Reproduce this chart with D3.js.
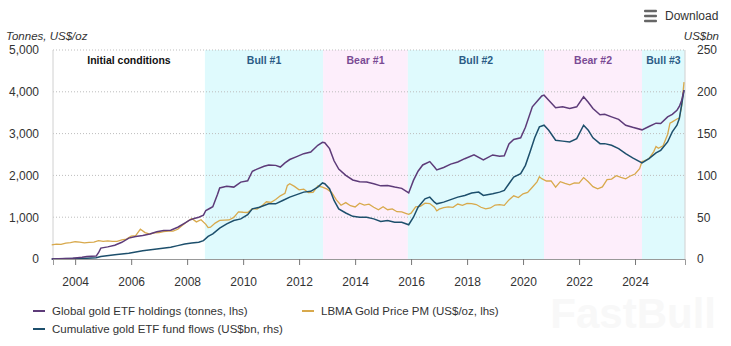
<html>
<head>
<script src="https://d3js.org/d3.v7.min.js"></script>
<style>
  body { margin: 0; background: #fff; font-family: "Liberation Sans", Arial, sans-serif; }
  svg text { font-family: "Liberation Sans", Arial, sans-serif; }
</style>
</head>
<body>
<div id="chart"></div>
<script>
// tick labels
var leftTicks = [0, 1000, 2000, 3000, 4000, 5000];
var rightTicks = [0, 50, 100, 150, 200, 250];
var yearTicks = [2004, 2006, 2008, 2010, 2012, 2014, 2016, 2018, 2020, 2022, 2024];

// market phases
var phaseNames = ["Initial conditions", "Bull #1", "Bear #1", "Bull #2", "Bear #2", "Bull #3"];
var phaseStarts = ["2003-03-18", "2008-08-20", "2012-11-10", "2015-11-20", "2020-10-01", "2024-04-01"];
var phaseEnds = ["2008-08-20", "2012-11-10", "2015-11-20", "2020-10-01", "2024-04-01", "2025-10-14"];
var phaseKinds = ["init", "bull", "bear", "bull", "bear", "bull"];

// Global gold ETF holdings (tonnes)
var holdings = [
  ["2003-03",0],["2003-06",5],["2003-12",20],["2004-04",40],["2004-06",60],["2004-10",70],["2004-11",150],["2004-12",260],
  ["2005-03",290],["2005-06",330],["2005-09",400],["2005-12",500],["2006-03",540],["2006-06",560],["2006-09",600],["2006-12",650],
  ["2007-03",680],["2007-06",690],["2007-09",760],["2007-12",860],["2008-02",930],["2008-04",970],["2008-06",1000],["2008-08",1050],
  ["2008-09",1160],["2008-11",1220],["2008-12",1250],["2009-02",1550],["2009-03",1700],["2009-06",1740],["2009-09",1720],["2009-12",1840],
  ["2010-03",1870],["2010-05",2100],["2010-07",2150],["2010-10",2220],["2010-12",2250],["2011-03",2240],["2011-05",2200],["2011-07",2300],
  ["2011-09",2380],["2011-12",2450],["2012-03",2520],["2012-06",2560],["2012-09",2720],["2012-11",2790],["2012-12",2780],["2013-02",2640],
  ["2013-04",2350],["2013-06",2150],["2013-09",2000],["2013-12",1890],["2014-03",1850],["2014-06",1840],["2014-09",1800],["2014-12",1750],
  ["2015-03",1760],["2015-06",1720],["2015-09",1690],["2015-12",1580],["2016-02",1880],["2016-04",2100],["2016-06",2250],["2016-09",2330],
  ["2016-11",2200],["2016-12",2130],["2017-03",2190],["2017-06",2270],["2017-09",2320],["2017-12",2400],["2018-04",2490],["2018-08",2370],
  ["2018-12",2490],["2019-03",2460],["2019-05",2470],["2019-07",2750],["2019-09",2860],["2019-12",2900],["2020-02",3150],["2020-05",3640],
  ["2020-09",3900],["2020-10",3920],["2020-12",3800],["2021-03",3620],["2021-06",3640],["2021-09",3600],["2021-12",3640],["2022-03",3880],
  ["2022-05",3750],["2022-07",3600],["2022-10",3450],["2022-12",3460],["2023-03",3400],["2023-06",3340],["2023-09",3200],["2023-12",3150],
  ["2024-04",3090],["2024-07",3170],["2024-10",3250],["2024-12",3240],["2025-03",3400],["2025-05",3460],["2025-07",3560],["2025-08",3650],
  ["2025-09",3800],["2025-10",4040]
];

// Cumulative gold ETF fund flows (US$bn)
var flows = [
  ["2003-03",0],["2003-12",0.5],["2004-06",1],["2004-10",1.5],["2004-12",3],["2005-06",5],["2005-12",7],["2006-06",10],
  ["2006-12",12],["2007-06",14],["2007-09",16],["2007-12",18],["2008-03",19],["2008-06",20],["2008-08",22],["2008-10",27],
  ["2008-12",30],["2009-03",37],["2009-06",42],["2009-09",46],["2009-12",48],["2010-03",53],["2010-05",60],["2010-08",62],
  ["2010-12",66],["2011-03",66],["2011-06",70],["2011-09",74],["2011-12",77],["2012-03",80],["2012-06",81],["2012-09",86],
  ["2012-11",91],["2012-12",90],["2013-02",84],["2013-04",70],["2013-06",60],["2013-09",55],["2013-12",51],["2014-03",50],
  ["2014-06",50],["2014-09",48],["2014-12",45],["2015-03",46],["2015-06",44],["2015-09",44],["2015-12",41],["2016-02",50],
  ["2016-04",62],["2016-07",72],["2016-09",74],["2016-11",68],["2016-12",66],["2017-03",68],["2017-06",71],["2017-09",74],
  ["2017-12",76],["2018-03",79],["2018-06",80],["2018-08",76],["2018-12",78],["2019-03",80],["2019-05",82],["2019-07",90],
  ["2019-09",98],["2019-12",102],["2020-02",112],["2020-04",128],["2020-06",145],["2020-08",158],["2020-10",160],["2020-12",154],
  ["2021-03",142],["2021-06",141],["2021-09",140],["2021-12",144],["2022-03",160],["2022-05",154],["2022-07",145],["2022-10",138],
  ["2022-12",138],["2023-03",136],["2023-06",132],["2023-09",126],["2023-12",121],["2024-04",115],["2024-07",120],["2024-10",127],
  ["2024-12",130],["2025-03",140],["2025-05",152],["2025-07",160],["2025-08",168],["2025-09",185],["2025-10",202]
];

// LBMA Gold Price PM (US$/oz)
var gold = [
  ["2003-03",340],["2003-05",355],["2003-07",350],["2003-09",378],["2003-11",390],
  ["2004-01",413],["2004-03",406],["2004-05",384],["2004-07",398],["2004-09",405],["2004-11",439],
  ["2005-01",424],["2005-03",434],["2005-05",422],["2005-07",424],["2005-09",456],["2005-11",476],
  ["2006-01",549],["2006-03",557],["2006-05",712],["2006-07",633],["2006-09",598],["2006-11",628],
  ["2007-01",631],["2007-03",655],["2007-05",668],["2007-07",665],["2007-09",712],["2007-11",806],
  ["2008-01",889],["2008-03",968],["2008-05",888],["2008-07",939],["2008-09",829],["2008-10",750],["2008-11",760],
  ["2009-01",858],["2009-03",924],["2009-05",928],["2009-07",934],["2009-09",996],["2009-11",1128],
  ["2010-01",1118],["2010-03",1113],["2010-05",1205],["2010-07",1193],["2010-09",1271],["2010-11",1370],
  ["2011-01",1356],["2011-03",1424],["2011-05",1511],["2011-07",1572],["2011-08",1760],["2011-09",1800],["2011-11",1738],
  ["2012-01",1656],["2012-03",1673],["2012-05",1591],["2012-07",1593],["2012-09",1745],["2012-11",1721],
  ["2013-01",1671],["2013-03",1593],["2013-05",1414],["2013-07",1286],["2013-09",1349],["2013-11",1275],
  ["2014-01",1244],["2014-03",1336],["2014-05",1288],["2014-07",1311],["2014-09",1239],["2014-11",1176],
  ["2015-01",1251],["2015-03",1178],["2015-05",1199],["2015-07",1131],["2015-09",1125],["2015-11",1086],["2015-12",1068],
  ["2016-01",1097],["2016-03",1246],["2016-05",1260],["2016-07",1337],["2016-09",1326],["2016-11",1238],["2016-12",1150],
  ["2017-01",1192],["2017-03",1231],["2017-05",1246],["2017-07",1236],["2017-09",1315],["2017-11",1282],
  ["2018-01",1331],["2018-03",1325],["2018-05",1303],["2018-07",1238],["2018-09",1198],["2018-11",1220],
  ["2019-01",1291],["2019-03",1300],["2019-05",1284],["2019-07",1413],["2019-09",1511],["2019-11",1470],
  ["2020-01",1560],["2020-03",1591],["2020-05",1716],["2020-07",1846],["2020-08",1968],["2020-09",1921],["2020-11",1866],
  ["2021-01",1867],["2021-03",1718],["2021-05",1850],["2021-07",1807],["2021-09",1775],["2021-11",1822],
  ["2022-01",1817],["2022-03",1948],["2022-05",1848],["2022-07",1732],["2022-09",1681],["2022-11",1726],
  ["2023-01",1898],["2023-03",1913],["2023-05",1992],["2023-07",1951],["2023-09",1916],["2023-11",1985],
  ["2024-01",2034],["2024-03",2160],["2024-04",2330],["2024-05",2350],["2024-07",2400],["2024-09",2570],["2024-10",2690],["2024-11",2650],
  ["2025-01",2710],["2025-03",2980],["2025-04",3250],["2025-05",3280],["2025-07",3350],["2025-08",3370],["2025-09",3660],["2025-10",4230]
];

var W = 731, H = 346;
var margin = {top: 50, right: 46, bottom: 87, left: 53};
var width = W - margin.left - margin.right,
    height = H - margin.top - margin.bottom;

var parseM = d3.timeParse("%Y-%m"),
    parseD = d3.timeParse("%Y-%m-%d");

var colPurple = "#5d3b79", colTeal = "#1d4f6c", colGold = "#d8a94c";
var phaseFill = {init: "#ffffff", bull: "#dffafd", bear: "#fdeefb"};
var phaseText = {init: "#111111", bull: "#2b5c86", bear: "#7a4a94"};

var svg = d3.select("#chart").append("svg")
  .attr("width", W).attr("height", H);

// watermark
svg.append("text")
  .attr("x", 716).attr("y", 328)
  .attr("text-anchor", "end")
  .style("font-size", "42px").style("font-weight", "bold")
  .attr("fill", "#f8f8f8")
  .text("FastBull");

var g = svg.append("g")
  .attr("transform", "translate(" + margin.left + "," + margin.top + ")");

var x = d3.scaleTime()
  .domain([parseD("2003-03-18"), parseD("2025-10-14")])
  .range([0, width]);
var yL = d3.scaleLinear().domain([0, 5000]).range([height, 0]);
var yR = d3.scaleLinear().domain([0, 250]).range([height, 0]);

// phase bands
var phases = phaseNames.map(function(n, i) {
  return {name: n, s: parseD(phaseStarts[i]), e: parseD(phaseEnds[i]), kind: phaseKinds[i]};
});
g.selectAll(".band").data(phases).enter().append("rect")
  .attr("x", function(d) { return x(d.s); })
  .attr("width", function(d) { return x(d.e) - x(d.s); })
  .attr("y", 0).attr("height", height)
  .attr("fill", function(d) { return phaseFill[d.kind]; });

// grid
g.selectAll(".grid").data(leftTicks.slice(1)).enter().append("line")
  .attr("x1", 0).attr("x2", width)
  .attr("y1", function(d) { return yL(d); }).attr("y2", function(d) { return yL(d); })
  .attr("stroke", "#bdbdbd").attr("stroke-width", 1).attr("stroke-dasharray", "1,2");

// frame sides
g.append("line").attr("x1", 0).attr("x2", 0).attr("y1", 0).attr("y2", height)
  .attr("stroke", "#d0d0d0");
g.append("line").attr("x1", width).attr("x2", width).attr("y1", 0).attr("y2", height)
  .attr("stroke", "#d0d0d0");

// phase labels
g.selectAll(".plabel").data(phases).enter().append("text")
  .attr("x", function(d) { return (x(d.s) + x(d.e)) / 2; })
  .attr("y", 14)
  .attr("text-anchor", "middle")
  .style("font-size", "10.5px").style("font-weight", "bold")
  .attr("fill", function(d) { return phaseText[d.kind]; })
  .text(function(d) { return d.name; });

// lines
function mkLine(ys) {
  return d3.line()
    .x(function(d) { return x(parseM(d[0])); })
    .y(function(d) { return ys(d[1]); });
}
g.append("path").datum(gold)
  .attr("fill", "none").attr("stroke", colGold).attr("stroke-width", 1.3)
  .attr("d", mkLine(yL));
g.append("path").datum(flows)
  .attr("fill", "none").attr("stroke", colTeal).attr("stroke-width", 1.5)
  .attr("d", mkLine(yR));
g.append("path").datum(holdings)
  .attr("fill", "none").attr("stroke", colPurple).attr("stroke-width", 1.5)
  .attr("d", mkLine(yL));

// x axis
var xAxis = g.append("g")
  .attr("transform", "translate(0," + height + ")")
  .call(d3.axisBottom(x)
    .tickValues(yearTicks.map(function(y) { return new Date(y, 0, 1); }))
    .tickFormat(d3.timeFormat("%Y"))
    .tickSize(6).tickPadding(12));
xAxis.select(".domain").attr("stroke", "#999");
xAxis.selectAll(".tick line").attr("stroke", "#777");
xAxis.selectAll("text").style("font-size", "12px").attr("fill", "#333");

// left axis
var lAxis = g.append("g")
  .call(d3.axisLeft(yL).tickValues(leftTicks).tickFormat(d3.format(",")).tickSize(0).tickPadding(14));
lAxis.select(".domain").remove();
lAxis.selectAll("text").style("font-size", "12px").attr("fill", "#333");

// right axis
var rAxis = g.append("g")
  .attr("transform", "translate(" + width + ",0)")
  .call(d3.axisRight(yR).tickValues(rightTicks).tickSize(0).tickPadding(12));
rAxis.select(".domain").remove();
rAxis.selectAll("text").style("font-size", "12px").attr("fill", "#333");

// axis titles
svg.append("text").attr("x", 6).attr("y", 40)
  .style("font-size", "11.5px").style("font-style", "italic").attr("fill", "#333")
  .text("Tonnes, US$/oz");
svg.append("text").attr("x", 719).attr("y", 40).attr("text-anchor", "end")
  .style("font-size", "11.5px").style("font-style", "italic").attr("fill", "#333")
  .text("US$bn");

// legend
var legendItems = [
  {label: "Global gold ETF holdings (tonnes, lhs)", color: colPurple, lx: 33, ly: 311},
  {label: "LBMA Gold Price PM (US$/oz, lhs)", color: colGold, lx: 302, ly: 311},
  {label: "Cumulative gold ETF fund flows (US$bn, rhs)", color: colTeal, lx: 33, ly: 329}
];
var lg = svg.selectAll(".leg").data(legendItems).enter().append("g");
lg.append("line")
  .attr("x1", function(d) { return d.lx; }).attr("x2", function(d) { return d.lx + 12; })
  .attr("y1", function(d) { return d.ly; }).attr("y2", function(d) { return d.ly; })
  .attr("stroke", function(d) { return d.color; }).attr("stroke-width", 2);
lg.append("text")
  .attr("x", function(d) { return d.lx + 19; })
  .attr("y", function(d) { return d.ly + 4; })
  .style("font-size", "11.5px").attr("fill", "#333")
  .text(function(d) { return d.label; });

// download button
var dl = svg.append("g");
[11, 16, 21].forEach(function(yy) {
  dl.append("rect").attr("x", 644).attr("y", yy - 1.2).attr("width", 13).attr("height", 2.4)
    .attr("rx", 1).attr("fill", "#666");
});
dl.append("text").attr("x", 665).attr("y", 20)
  .style("font-size", "12px").attr("fill", "#333")
  .text("Download");
</script>
</body>
</html>
